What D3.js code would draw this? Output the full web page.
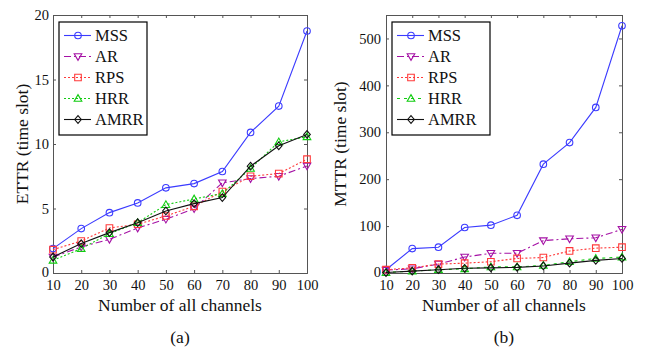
<!DOCTYPE html>
<html><head><meta charset="utf-8">
<script src="https://cdn.jsdelivr.net/npm/d3@7"></script>
</head>
<body style="margin:0;background:#fff"><svg id="c" width="649" height="350" style="display:block" font-family="Liberation Serif, Times New Roman, serif"></svg>
<script>
const channels = [10,20,30,40,50,60,70,80,90,100];
const seriesNames = ["MSS","AR","RPS","HRR","AMRR"];
// ETTR (a)
const ettrMSS  = [1.89,3.44,4.68,5.43,6.60,6.93,7.87,10.9,12.94,18.76];
const ettrAR   = [1.24,2.02,2.61,3.49,4.17,4.99,6.99,7.32,7.50,8.30];
const ettrRPS  = [1.81,2.48,3.49,3.78,4.42,5.17,6.31,7.50,7.71,8.82];
const ettrHRR  = [0.98,1.89,3.05,3.90,5.30,5.74,6.16,8.10,10.17,10.56];
const ettrAMRR = [1.24,2.28,3.13,3.90,4.81,5.38,5.85,8.28,9.86,10.74];
// MTTR (b)
const mttrMSS  = [7,52,55,97,102,123,232,278,353,527];
const mttrAR   = [6,9,19,34,42,42,69,73,75,93];
const mttrRPS  = [7,11,19,21,24,31,33,47,53,55];
const mttrHRR  = [1,4,7,9,13,13,16,24,31,34];
const mttrAMRR = [1,4,7,10,11,12,15,21,27,31];
const ettrTicks = [0,5,10,15,20];
const mttrTicks = [0,100,200,300,400,500];
const xTicks = channels;

const styles = {
  MSS:  {color:"#3b3bff", dash:null,        marker:"circle"},
  AR:   {color:"#a512a5", dash:"7,3,2,3",   marker:"tdown"},
  RPS:  {color:"#ff3a3a", dash:"2,2",       marker:"square"},
  HRR:  {color:"#11cc11", dash:"2,2",       marker:"tup"},
  AMRR: {color:"#111111", dash:null,        marker:"diamond"}
};
const FONT = "Liberation Serif";

const svg = d3.select("#c");

function marker(g, type, x, y){
  const s = 3.3;
  if(type==="circle") g.append("circle").attr("cx",x).attr("cy",y).attr("r",s);
  else {
    let pts;
    if(type==="square") pts=[[x-s,y-s],[x+s,y-s],[x+s,y+s],[x-s,y+s]];
    else if(type==="tdown") pts=[[x-s-0.5,y-s+0.5],[x+s+0.5,y-s+0.5],[x,y+s+0.5]];
    else if(type==="tup") pts=[[x-s-0.5,y+s-0.5],[x+s+0.5,y+s-0.5],[x,y-s-0.5]];
    else pts=[[x,y-s-0.5],[x+s,y],[x,y+s+0.5],[x-s,y]];
    g.append("polygon").attr("points",pts.map(p=>p.join(",")).join(" "));
  }
}

function txt(sel, size){
  return sel.attr("font-family",FONT).style("font-family",FONT).attr("font-size",size).attr("fill","#111");
}

function panel(opt){
  const {left,right,top,bottom,ymax,yTicks,data,ylabel,cap,ylabelX,hrrDash,yPad} = opt;
  const x = d3.scaleLinear().domain([10,100]).range([left,right]);
  const y = d3.scaleLinear().domain([0,ymax]).range([bottom,top]);
  const g = svg.append("g");
  const fontSize = 14.5;
  const ax = g.append("g").attr("transform",`translate(0,${bottom})`)
    .call(d3.axisBottom(x).tickValues(xTicks).tickSize(-3).tickPadding(7).tickFormat(d3.format("d")));
  const axT = g.append("g").attr("transform",`translate(0,${top})`)
    .call(d3.axisTop(x).tickValues(xTicks).tickSize(-3).tickFormat(""));
  const ay = g.append("g").attr("transform",`translate(${left},0)`)
    .call(d3.axisLeft(y).tickValues(yTicks).tickSize(-3).tickPadding(yPad).tickFormat(d3.format("d")));
  const ayR = g.append("g").attr("transform",`translate(${right},0)`)
    .call(d3.axisRight(y).tickValues(yTicks).tickSize(-3).tickFormat(""));
  [ax,axT,ay,ayR].forEach(a=>{
    a.attr("font-family",FONT).attr("font-size",null);
    a.select(".domain").attr("stroke","#555").attr("stroke-width",1);
    a.selectAll(".tick line").attr("stroke","#555");
    txt(a.selectAll("text"), fontSize);
  });
  ay.selectAll(".tick").filter(d=>d===0).select("text").attr("dy","0.22em");
  const order = ["MSS","AR","RPS","HRR","AMRR"];
  order.forEach((name,i)=>{
    const st = styles[name];
    const dash = name==="HRR" ? hrrDash : st.dash;
    const vals = data[i];
    const line = d3.line().x((d,j)=>x(channels[j])).y(d=>y(d));
    g.append("path").attr("d",line(vals)).attr("fill","none")
      .attr("stroke",st.color).attr("stroke-width",1.1).attr("stroke-dasharray",dash);
    const mg = g.append("g").attr("fill","none").attr("stroke",st.color).attr("stroke-width",1.1);
    vals.forEach((v,j)=>marker(mg,st.marker,x(channels[j]),y(v)));
  });
  const lx = left+6, ly = 22, lw = opt.legW, lh = 113;
  const lg = g.append("g");
  lg.append("rect").attr("x",lx).attr("y",ly).attr("width",lw).attr("height",lh)
    .attr("fill","#fff").attr("stroke","#000").attr("stroke-width",1.2);
  order.forEach((name,i)=>{
    const st = styles[name];
    const dash = name==="HRR" ? hrrDash : st.dash;
    const yy = ly+13.5+i*21;
    lg.append("line").attr("x1",lx+5).attr("x2",lx+32).attr("y1",yy).attr("y2",yy)
      .attr("stroke",st.color).attr("stroke-width",1.1).attr("stroke-dasharray",dash);
    const mg = lg.append("g").attr("fill","none").attr("stroke",st.color).attr("stroke-width",1.1);
    marker(mg,st.marker,lx+19,yy);
    txt(lg.append("text").attr("x",lx+36).attr("y",yy+5.5),16.5).text(name);
  });
  txt(g.append("text").attr("x",(left+right)/2).attr("y",311).attr("text-anchor","middle"),17.5)
    .text("Number of all channels");
  txt(g.append("text").attr("transform",`translate(${ylabelX},${(top+bottom)/2}) rotate(-90)`)
    .attr("text-anchor","middle"),17.5).text(ylabel);
  txt(g.append("text").attr("x",(left+right)/2).attr("y",343).attr("text-anchor","middle"),17.5).text(cap);
}

panel({left:53,right:307,top:15,bottom:273,ymax:20,yTicks:ettrTicks,
  data:[ettrMSS,ettrAR,ettrRPS,ettrHRR,ettrAMRR],ylabel:"ETTR (time slot)",cap:"(a)",ylabelX:28,
  hrrDash:"2,2",legW:88,yPad:4});
panel({left:386,right:622,top:15,bottom:273,ymax:550,yTicks:mttrTicks,
  data:[mttrMSS,mttrAR,mttrRPS,mttrHRR,mttrAMRR],ylabel:"MTTR (time slot)",cap:"(b)",ylabelX:346,
  hrrDash:"3,4",legW:98,yPad:5});
</script></body></html>
